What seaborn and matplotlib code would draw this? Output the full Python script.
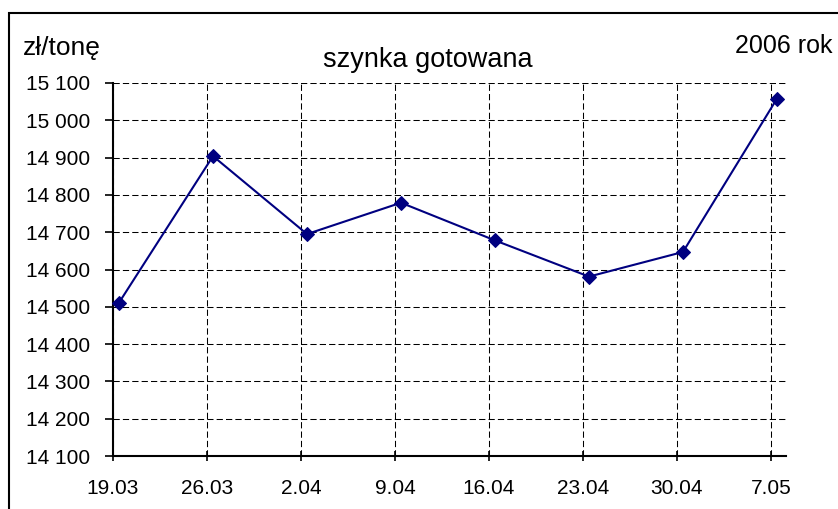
import matplotlib
matplotlib.use("Agg")
import matplotlib.pyplot as plt
from matplotlib.patches import Rectangle
from matplotlib.transforms import ScaledTranslation
import seaborn as sns
import pandas as pd

dates = ["19.03", "26.03", "2.04", "9.04", "16.04", "23.04", "30.04", "7.05"]
prices = [14511, 14904, 14695, 14779, 14678, 14581, 14647, 15058]
y_ticks = list(range(14100, 15101, 100))

title = "szynka gotowana"
unit_label = "zł/tonę"
year_label = "2006 rok"

sns.set_style("white")
plt.rcParams["font.family"] = ["Liberation Sans", "DejaVu Sans"]
plt.rcParams["text.color"] = "black"

df = pd.DataFrame({"data": dates, "cena": prices})
df["pos"] = range(len(df))

fig = plt.figure(figsize=(8.38, 5.09), dpi=100)
ax = fig.add_axes([113 / 838, 1 - 456 / 509, (786 - 113) / 838, (456 - 83) / 509])

sns.lineplot(data=df, x="pos", y="cena", ax=ax, color="#000080", linewidth=1.5,
             marker="D", markersize=7.5, markeredgecolor="#000080", zorder=5)

# excel draws the series a few pixels right of the gridlines
line = ax.lines[0]
line.set_transform(ax.transData + ScaledTranslation(6 / 100, 0, fig.dpi_scale_trans))
line.set_clip_on(False)

ax.set_xlim(0, 7.16)
ax.set_ylim(14100, 15100)
ax.set_xticks(df["pos"])
ax.set_xticklabels(dates)
ax.set_yticks(y_ticks)
ax.set_yticklabels([f"{v:,}".replace(",", " ") for v in y_ticks])
ax.set_xlabel("")
ax.set_ylabel("")

ax.grid(True, color="black", linestyle=(0, (6, 3)), linewidth=0.75)
ax.set_axisbelow(True)
for s in ["top", "right"]:
    ax.spines[s].set_visible(False)
for s in ["left", "bottom"]:
    ax.spines[s].set_color("black")
    ax.spines[s].set_linewidth(1.5)
ax.tick_params(axis="x", bottom=True, direction="inout", length=6.5, width=1.2, colors="black",
               labelsize=15, pad=13)
ax.tick_params(axis="y", left=True, direction="out", length=6, width=1.2, colors="black",
               labelsize=15, pad=10.5)

fig.text(23 / 838, 1 - 55 / 509, unit_label, fontsize=19, ha="left", va="baseline")
fig.text(428 / 838, 1 - 67 / 509, title, fontsize=19.5, ha="center", va="baseline")
fig.text(832 / 838, 1 - 53 / 509, year_label, fontsize=18, ha="right", va="baseline")

fig.patches.append(Rectangle((9 / 838, -0.1), 1.2, 1.1 - 13 / 509, transform=fig.transFigure,
                             fill=False, edgecolor="black", linewidth=1.5))

fig.savefig("out.png", dpi=100)
